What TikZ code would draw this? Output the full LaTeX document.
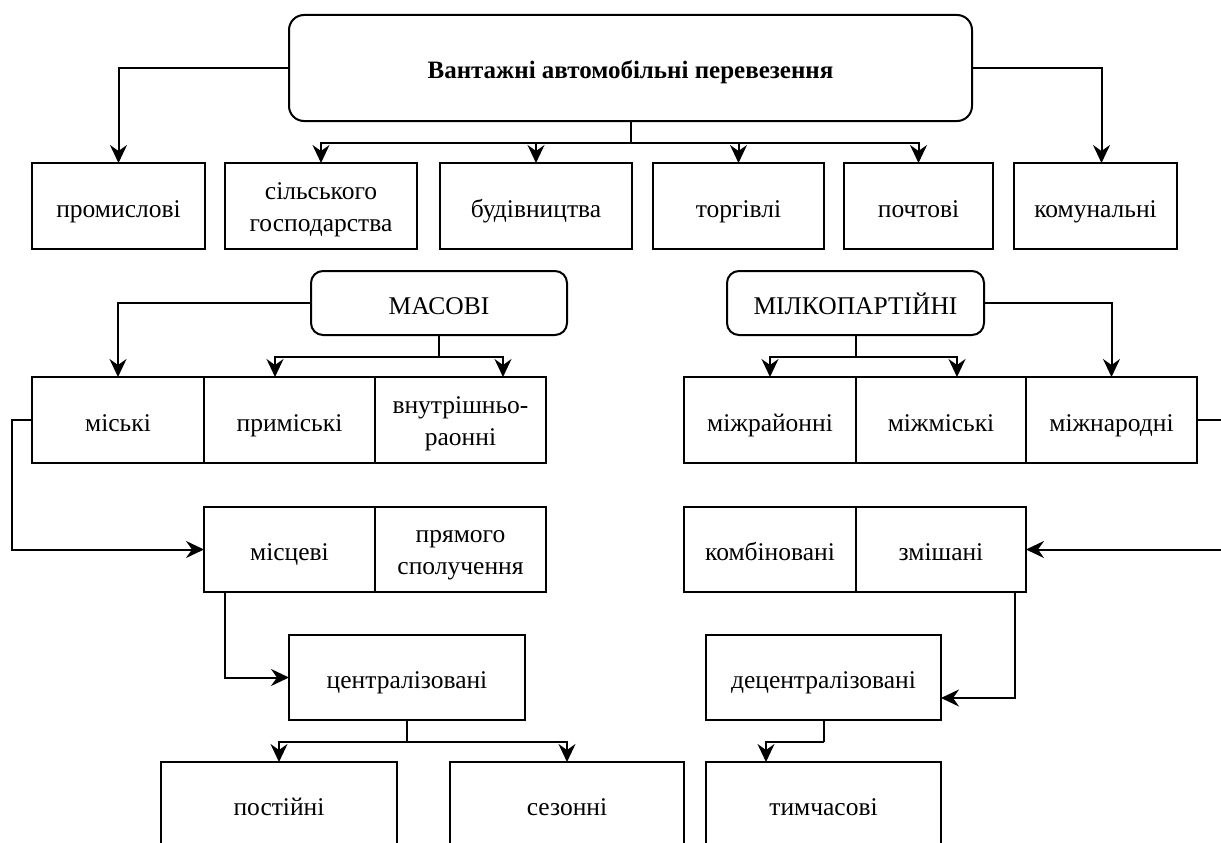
\documentclass[tikz,border=0pt]{standalone}
\usepackage{fontspec}
\setmainfont{Liberation Serif}
\usetikzlibrary{arrows.meta}
\newcommand\twolines[2]{\raisebox{-3pt}[\height][\depth]{\begin{tabular}{@{}c@{}}#1\\#2\end{tabular}}}
\tikzset{
  box/.style={draw, line width=2pt, inner sep=2pt, outer sep=0pt, align=center, font=\fontsize{25.5}{32}\selectfont},
  one/.style={text height=24pt, text depth=2pt},
  rbox/.style={box, one, rounded corners=12pt},
  arr/.style={line width=2pt, -{Stealth[length=18pt,width=17pt,inset=6pt]}},
  ln/.style={line width=2pt},
}
\begin{document}
\begin{tikzpicture}[x=1pt,y=-1pt]
\useasboundingbox (0,0) rectangle (1221,843);
% top
\node[rbox, rounded corners=15pt, text height=22pt, minimum width=683pt, minimum height=106pt, font=\bfseries\fontsize{25}{30}\selectfont] (title) at (630.5,68) {Вантажні автомобільні перевезення};
\node[box, one, minimum width=173pt, minimum height=86pt] (prom) at (118.5,206) {промислові};
\node[box, minimum width=192pt, minimum height=86pt] (silsk) at (321,206) {\twolines{сільського}{господарства}};
\node[box, one, minimum width=192pt, minimum height=86pt] (budiv) at (536,206) {будівництва};
\node[box, one, minimum width=171pt, minimum height=86pt] (torg) at (738.5,206) {торгівлі};
\node[box, one, minimum width=149pt, minimum height=86pt] (poch) at (918.5,206) {почтові};
\node[box, one, minimum width=163pt, minimum height=86pt] (komun) at (1095.5,206) {комунальні};
% second level
\node[rbox, minimum width=256pt, minimum height=64pt] (masovi) at (439,303) {МАСОВІ};
\node[rbox, minimum width=257pt, minimum height=64pt] (milko) at (855.5,303) {МІЛКОПАРТІЙНІ};
\node[box, one, minimum width=172pt, minimum height=86pt] (misk) at (118,420) {міські};
\node[box, one, minimum width=171pt, minimum height=86pt] (prymisk) at (289.5,420) {приміські};
\node[box, minimum width=171pt, minimum height=86pt] (vnutr) at (460.5,420) {\twolines{внутрішньо-}{раонні}};
\node[box, one, minimum width=172pt, minimum height=86pt] (mizhr) at (770,420) {міжрайонні};
\node[box, one, minimum width=170pt, minimum height=86pt] (mizhm) at (941,420) {міжміські};
\node[box, one, minimum width=171pt, minimum height=86pt] (mizhn) at (1111.5,420) {міжнародні};
\node[box, one, minimum width=171pt, minimum height=85pt] (miscevi) at (289.5,549.5) {місцеві};
\node[box, minimum width=171pt, minimum height=85pt] (pryamo) at (460.5,549.5) {\twolines{прямого}{сполучення}};
\node[box, one, minimum width=172pt, minimum height=85pt] (kombin) at (770,549.5) {комбіновані};
\node[box, one, minimum width=170pt, minimum height=85pt] (zmish) at (941,549.5) {змішані};
\node[box, one, minimum width=236pt, minimum height=85pt] (central) at (407,677.5) {централізовані};
\node[box, one, minimum width=235pt, minimum height=85pt] (decentr) at (823.5,677.5) {децентралізовані};
\node[box, one, minimum width=236pt, minimum height=85pt] (post) at (279,804.5) {постійні};
\node[box, one, minimum width=234pt, minimum height=85pt] (sezon) at (567,804.5) {сезонні};
\node[box, one, minimum width=235pt, minimum height=85pt] (tymch) at (823.5,804.5) {тимчасові};
% bus coordinates
\coordinate (tb) at (title.south |- 0,143);
\coordinate (mb) at (masovi.south |- 0,357);
\coordinate (lb) at (milko.south |- 0,357);
\coordinate (cb) at (central.south |- 0,742);
\coordinate (db) at (decentr.south |- 0,742);
% connectors top
\draw[arr] (title.west) -| (prom.north);
\draw[arr] (title.east) -| ([xshift=6pt]komun.north);
\draw[ln] (title.south) -- (tb);
\draw[arr] (tb) -| (silsk.north);
\draw[arr] (tb) -| (budiv.north);
\draw[arr] (tb) -| (torg.north);
\draw[arr] (tb) -| (poch.north);
% masovi
\draw[arr] (masovi.west) -| (misk.north);
\draw[ln] (masovi.south) -- (mb);
\draw[arr] (mb) -| ([xshift=-14.5pt]prymisk.north);
\draw[arr] (mb) -| ([xshift=42.5pt]vnutr.north);
% milko
\draw[arr] (milko.east) -| (mizhn.north);
\draw[ln] (milko.south) -- (lb);
\draw[arr] (lb) -| (mizhr.north);
\draw[arr] (lb) -| ([xshift=16pt]mizhm.north);
% side loops
\draw[arr] (misk.west) -- ++(-20,0) |- (miscevi.west);
\draw[arr] (mizhn.east) -- ++(40,0) |- (zmish.east);
\draw[arr] (miscevi.south -| 225,0) |- (central.west);
\draw[arr] (zmish.south -| 1015,0) |- (decentr.east |- 0,698);
% bottom
\draw[ln] (central.south) -- (cb);
\draw[arr] (cb) -| (post.north);
\draw[arr] (cb) -| (sezon.north);
\draw[ln] (decentr.south) -- (db);
\draw[arr] (db) -| ([xshift=-57.5pt]tymch.north);
\end{tikzpicture}
\end{document}
